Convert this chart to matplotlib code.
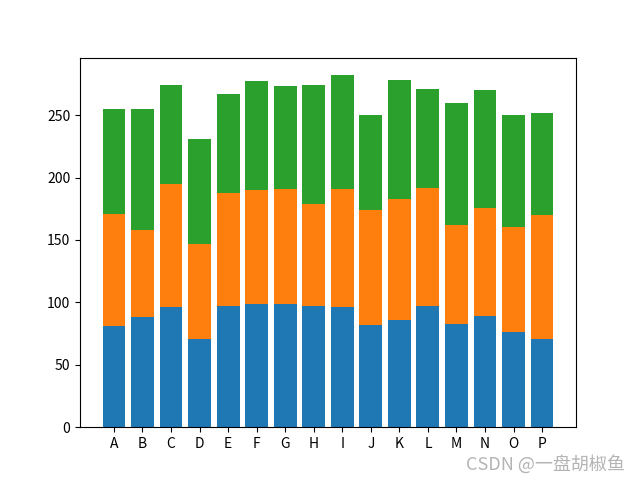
import matplotlib
matplotlib.use("Agg")
import matplotlib.pyplot as plt
import numpy as np

plt.rcParams['font.family'] = ['Noto Sans CJK SC', 'DejaVu Sans']
plt.rcParams['axes.unicode_minus'] = False

categories = list("ABCDEFGHIJKLMNOP")
s1 = [81, 88, 96, 71, 97, 99, 99, 97, 96, 82, 86, 97, 83, 89, 76, 71]
s2 = [90, 70, 99, 76, 91, 91, 92, 82, 95, 92, 97, 95, 79, 87, 84, 99]
s3 = [84, 97, 79, 84, 79, 87, 82, 95, 91, 76, 95, 79, 98, 94, 90, 82]

fig, ax = plt.subplots(figsize=(6.4, 4.8), dpi=100)
b1 = np.array(s1)
b2 = b1 + np.array(s2)
ax.bar(categories, s1)
ax.bar(categories, s2, bottom=b1)
ax.bar(categories, s3, bottom=b2)
ax.tick_params(labelsize=10)
fig.text(0.977, 0.033, "CSDN @一盘胡椒鱼", ha='right', va='center',
         fontsize=13, color='#b4b4b4')
fig.savefig("out.png", dpi=100)
